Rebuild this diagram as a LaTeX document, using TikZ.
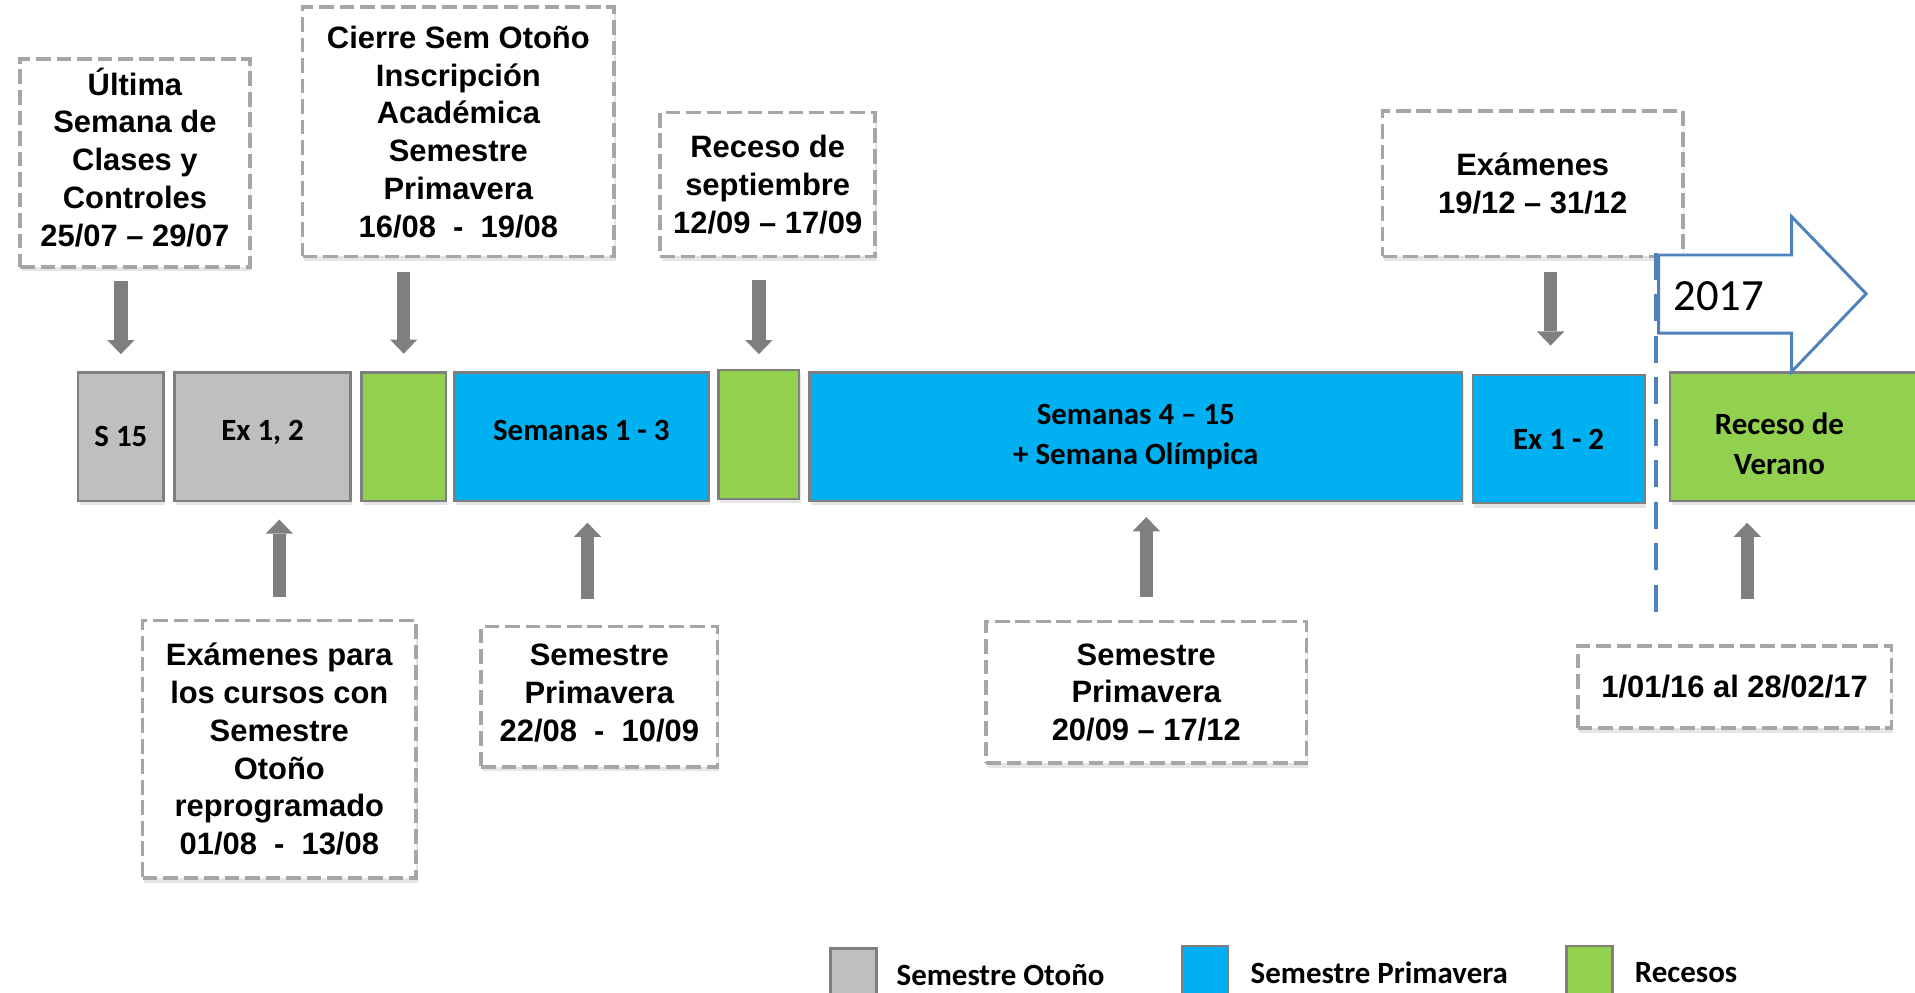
\documentclass[tikz,border=0pt]{standalone}
\usepackage{fontspec}
\setmainfont{Liberation Sans}
\newfontfamily\yearfont{Carlito}
\usetikzlibrary{positioning,calc,arrows.meta,shadows}

\definecolor{otono}{HTML}{BFBFBF}
\definecolor{primavera}{HTML}{00B0F0}
\definecolor{receso}{HTML}{92D050}
\definecolor{borde}{HTML}{7F7F7F}
\definecolor{guion}{HTML}{A6A6A6}
\definecolor{azul}{HTML}{4F81BD}

\tikzset{
  softshadow/.style={general shadow={shadow xshift=0.3mm, shadow yshift=-0.9mm, fill=black, opacity=0.10}},
  bar/.style={draw=borde, line width=0.5mm, inner sep=0pt, minimum height=26.25mm,
    font=\yearfont\fontsize{18}{23.4}\selectfont\bfseries, align=center},
  callout/.style={draw=guion, line width=0.75mm, dash pattern=on 3mm off 1.2mm, fill=white,
    inner sep=0pt, font=\fontsize{18}{22}\selectfont\bfseries, align=center, softshadow},
  pointer/.style={draw=borde, line width=2.7mm,
    -{Triangle[width=5.6mm,length=2.9mm,line width=0pt]}},
  legendbox/.style={draw=borde, line width=0.5mm, minimum width=9.4mm, minimum height=11mm, inner sep=0pt},
  legendtext/.style={font=\yearfont\fontsize{18}{22}\selectfont\bfseries, inner sep=0pt}
}

\begin{document}
\begin{tikzpicture}[x=0.25mm,y=-0.25mm]
    \useasboundingbox (0,0) rectangle (1568,813);
    \clip (0,0) rectangle (1568,813);

    \node[callout, minimum width=47mm, minimum height=42.5mm] (c1) at (110.5,133.5)
      {Última\\Semana de\\Clases y\\Controles\\25/07 – 29/07\\[-15pt]};
    \node[callout, minimum width=63.8mm, minimum height=51mm] (c2) at (375.3,108)
      {Cierre Sem Otoño\\Inscripción\\Académica\\Semestre\\Primavera\\16/08\ \ -\ \ 19/08};
    \node[callout, minimum width=44mm, minimum height=29.5mm] (c3) at (628.6,151)
      {Receso de\\septiembre\\12/09 – 17/09};
    \node[callout, minimum width=61.5mm, minimum height=29.75mm] (c4) at (1255,150.5)
      {Exámenes\\19/12 – 31/12};

    \node[bar, fill=otono, minimum width=17.5mm, softshadow] (s15) at (99,357.5) {S 15};
    \node[bar, fill=otono, minimum width=36mm, text depth=2.5mm, softshadow] (ex12) at (215,357.5) {Ex 1, 2};
    \node[bar, fill=receso, minimum width=17.25mm, softshadow] (rec1) at (330.5,357.5) {};
    \node[bar, fill=primavera, minimum width=52mm, text depth=2.5mm, softshadow] (sem13) at (476,357.5) {Semanas 1 - 3};
    \node[bar, fill=receso, minimum width=16.5mm, minimum height=26.4mm, softshadow] (rec2) at (621.4,355.8) {};
    \node[bar, fill=primavera, minimum width=133.6mm, softshadow] (sem415) at (930,357.5)
      {Semanas 4 – 15\\+ Semana Olímpica};
    \node[bar, fill=primavera, minimum width=35.1mm, softshadow] (exfin) at (1276.2,359.5) {Ex 1 - 2};
    \node[bar, fill=receso, minimum width=58mm, softshadow] (verano) at (1483.6,357.5) {};
    \node[bar, draw=none] (veranotxt) at (1457,363.5) {Receso de\\Verano};

    \node[callout, minimum width=56mm, minimum height=52.75mm] (b1) at (228.7,613.5)
      {Exámenes para\\los cursos con\\Semestre\\Otoño\\reprogramado\\01/08\ \ -\ \ 13/08};
    \node[callout, minimum width=48.4mm, minimum height=28.75mm] (b2) at (490.75,570.5)
      {Semestre\\Primavera\\22/08\ \ -\ \ 10/09\\[-17pt]};
    \node[callout, minimum width=65.6mm, minimum height=29mm] (b3) at (938.6,567)
      {Semestre\\Primavera\\20/09 – 17/12};
    \node[callout, minimum width=64.25mm, minimum height=16.9mm] (b4) at (1420.3,562.5)
      {1/01/16 al 28/02/17};

    \coordinate (p4) at ($(exfin.north)+(-6.6,0)$);
    \coordinate (p6) at ($(b2.north)+(-9.75,0)$);
    \coordinate (p8) at ($(b4.north)+(10.3,0)$);

    \draw[pointer, shorten <=2.5mm, shorten >=3.5mm] (c1.south -| s15.north) -- (s15.north);
    \draw[pointer, shorten <=2.9mm, shorten >=3.6mm] (c2.south -| rec1.north) -- (rec1.north);
    \draw[pointer, shorten <=4.5mm, shorten >=3mm] (c3.south -| rec2.north) -- (rec2.north);
    \draw[pointer, shorten <=2.9mm, shorten >=5.75mm] (c4.south -| p4) -- (p4);
    \draw[pointer, shorten <=4.4mm, shorten >=3.6mm] (b1.north) -- (b1.north |- ex12.south);
    \draw[pointer, shorten <=5.25mm, shorten >=4.25mm] (p6) -- (p6 |- sem13.south);
    \draw[pointer, shorten <=4.75mm, shorten >=3.1mm] (b3.north) -- (b3.north |- sem415.south);
    \draw[pointer, shorten <=9.2mm, shorten >=4.25mm] (p8) -- (p8 |- verano.south);

    \coordinate (corte1) at (1356,207);
    \coordinate (corte2) at (1356,509);
    \draw[azul, line width=0.75mm, dash pattern=on 5.5mm off 3mm] (corte1) -- (corte2);
    \draw[azul, line width=0.6mm, fill=white] (1358,208.8) -- (1467,208.8) -- (1467,177.4)
      -- (1528,240.5) -- (1467,304.3) -- (1467,272.8) -- (1358,272.8) -- cycle;
    \node[font=\yearfont\fontsize{26}{30}\selectfont, anchor=west, inner sep=0pt] (anio) at (1370,242.2) {2017};

    \node[legendbox, fill=otono] (ley1) at (698.9,798.5) {};
    \node[legendtext, right=3.8mm of ley1] (ley1t) {Semestre Otoño};
    \node[legendbox, fill=primavera] (ley2) at (986.8,796.6) {};
    \node[legendtext, right=4.3mm of ley2] (ley2t) {Semestre Primavera};
    \node[legendbox, fill=receso] (ley3) at (1301.4,796.6) {};
    \node[legendtext, right=4.3mm of ley3] (ley3t) {Recesos};
\end{tikzpicture}
\end{document}
